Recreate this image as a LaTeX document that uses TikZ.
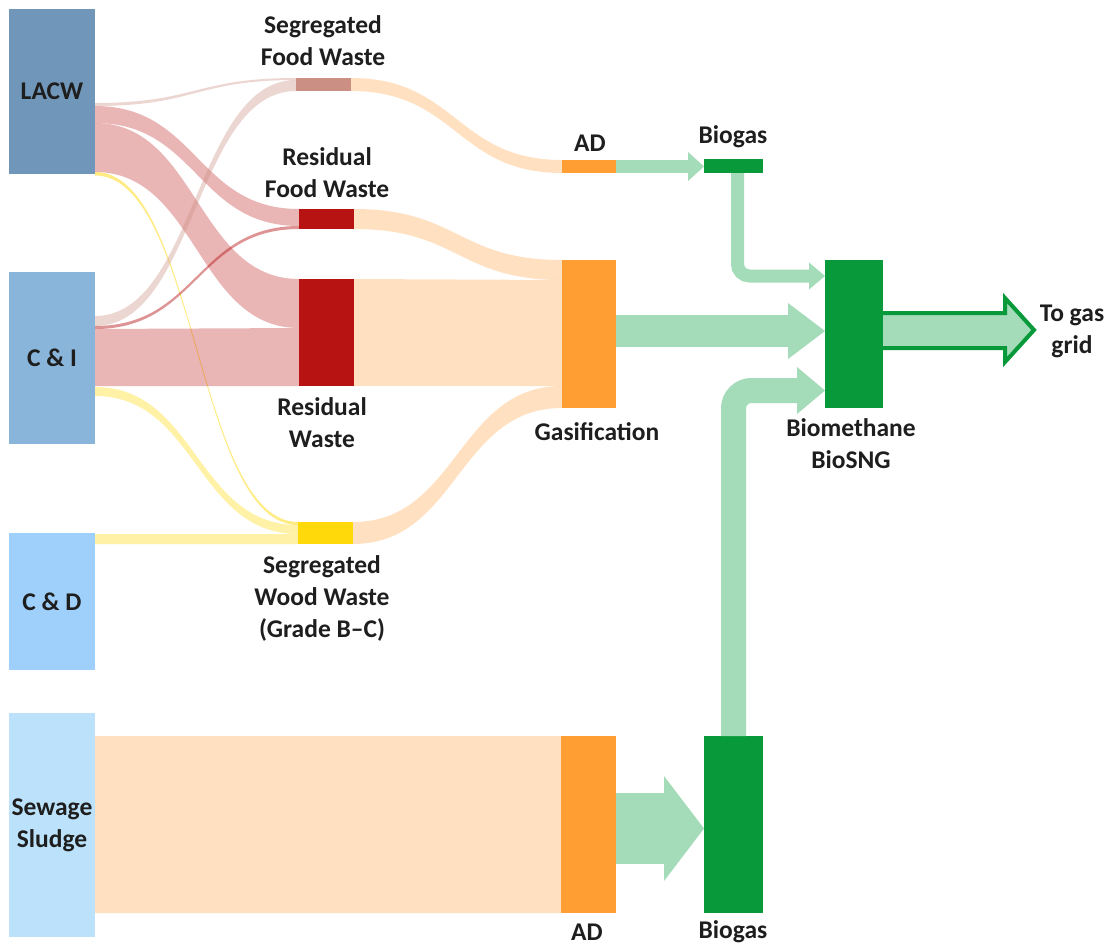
\documentclass[tikz,border=0pt]{standalone}
\usepackage{fontspec}
\setmainfont{Carlito}
\usetikzlibrary{calc,arrows.meta}
\pgfdeclarelayer{bg}
\pgfdeclarelayer{paper}
\pgfsetlayers{paper,bg,main}
\definecolor{cLACW}{HTML}{7097B9}
\definecolor{cCI}{HTML}{8AB5DA}
\definecolor{cCD}{HTML}{9ED0FB}
\definecolor{cSEW}{HTML}{BBE2FA}
\definecolor{cSFW}{HTML}{CC8F83}
\definecolor{cRED}{HTML}{B81313}
\definecolor{cWOOD}{HTML}{FFD90A}
\definecolor{cORG}{HTML}{FF9E33}
\definecolor{cGRN}{HTML}{089A3A}
\definecolor{cLG}{HTML}{A4DBB9}
\definecolor{cTXT}{HTML}{1E1E1E}
% band: #1 style, #2 source node, #3/#4 source top/bottom y, #5 target node, #6/#7 target top/bottom y
\newcommand\flowband[7]{%
  \path (#2.east |- 0,#3) coordinate (fa) (#2.east |- 0,#4) coordinate (fb)
        (#5.west |- 0,#6) coordinate (fc) (#5.west |- 0,#7) coordinate (fd);
  \path ($(fa)!0.5!(fc)$) coordinate (fm);
  \fill[#1] (fa) .. controls (fm |- fa) and (fm |- fc) .. (fc) -- (fd)
     .. controls (fm |- fd) and (fm |- fb) .. (fb) -- cycle;
}
\begin{document}
\begin{tikzpicture}[x=1pt,y=-1pt,
  font=\fontsize{25.5}{32}\selectfont\bfseries, text=cTXT,
  box/.style={anchor=north west, inner sep=0pt, outer sep=0pt, align=center},
  lbl/.style={align=center, inner sep=0pt},
  redflow/.style={fill=cRED, fill opacity=0.31},
  redthin/.style={fill=cRED, fill opacity=0.45},
  roseflow/.style={fill=cSFW, fill opacity=0.36},
  yelflow/.style={fill=cWOOD, fill opacity=0.36},
  yelthin/.style={fill=cWOOD, fill opacity=0.5},
  peachflow/.style={fill=cORG, fill opacity=0.3},
]
\begin{pgfonlayer}{paper}
\fill[white] (0,0) rectangle (1107,946);
\end{pgfonlayer}
\useasboundingbox (0,0) rectangle (1107,946);

% sources
\node[box, fill=cLACW, minimum width=86pt, minimum height=165pt] (lacw) at (9,9) {LACW};
\node[box, fill=cCI, minimum width=86pt, minimum height=172pt] (ci) at (9,272) {C \& I};
\node[box, fill=cCD, minimum width=86pt, minimum height=137pt] (cd) at (9,533) {C \& D};
\node[box, fill=cSEW, minimum width=86pt, minimum height=224pt] (sew) at (9,713) {Sewage\\Sludge};

% intermediate
\node[box, fill=cSFW, minimum width=55pt, minimum height=13pt] (sfw) at (296,78) {};
\node[box, fill=cRED, minimum width=55pt, minimum height=20pt] (rfw) at (299,209) {};
\node[box, fill=cRED, minimum width=55pt, minimum height=107pt] (rw) at (299,279) {};
\node[box, fill=cWOOD, minimum width=55pt, minimum height=22pt] (wood) at (298,522) {};

% processes
\node[box, fill=cORG, minimum width=54pt, minimum height=13pt] (ad1) at (562,160) {};
\node[box, fill=cORG, minimum width=54pt, minimum height=148pt] (gas) at (562,260) {};
\node[box, fill=cORG, minimum width=55pt, minimum height=177pt] (ad2) at (561,736) {};
\node[box, fill=cGRN, minimum width=59pt, minimum height=14pt] (bg1) at (704,159) {};
\node[box, fill=cGRN, minimum width=59pt, minimum height=177pt] (bg2) at (704,736) {};
\node[box, fill=cGRN, minimum width=58pt, minimum height=148pt] (bm) at (825,260) {};
\coordinate (gridpt) at (1034,330);

% flows
\begin{pgfonlayer}{bg}
\flowband{roseflow}{lacw}{103}{106}{sfw}{78}{80}
\flowband{redflow}{lacw}{106}{123}{rfw}{209}{226}
\flowband{redflow}{lacw}{123}{172}{rw}{279}{328}
\flowband{yelthin}{lacw}{172}{175.5}{wood}{522}{525}
\flowband{roseflow}{ci}{316}{326}{sfw}{80}{91}
\flowband{redthin}{ci}{326}{329}{rfw}{226}{229}
\flowband{redflow}{ci}{329}{386}{rw}{328}{386}
\flowband{yelflow}{ci}{387}{396}{wood}{525}{534}
\flowband{yelflow}{cd}{534}{544}{wood}{534}{544}
\flowband{peachflow}{sfw}{78}{91}{ad1}{160}{173}
\flowband{peachflow}{rfw}{209}{229}{gas}{260}{280}
\flowband{peachflow}{rw}{279}{386}{gas}{280}{386}
\flowband{peachflow}{wood}{522}{544}{gas}{386}{408}
\flowband{peachflow}{sew}{736}{913}{ad2}{736}{913}
\draw[fill=cLG, draw=cGRN, line width=4pt] (bm.east |- 0,313) -- (1005,313) -- (1005,298)
  -- (gridpt) -- (1005,362) -- (1005,348) -- (bm.east |- 0,348);
\end{pgfonlayer}

% green arrows
\draw[draw=cLG, line width=13pt, -{Triangle[length=16pt,width=29pt,line width=0pt,fill=cLG]}]
  (ad1.east) -- (bg1.west |- ad1.east);
\draw[draw=cLG, line width=32pt, -{Triangle[length=37pt,width=56pt,line width=0pt,fill=cLG]}]
  (gas.east |- 0,331) -- (bm.west |- 0,331);
\draw[draw=cLG, line width=71pt, -{Triangle[length=40pt,width=105pt,line width=0pt,fill=cLG]}]
  (ad2.east |- 0,828.5) -- (bg2.west |- 0,828.5);
\draw[draw=cLG, line width=13pt, rounded corners=12pt, -{Triangle[length=16pt,width=27pt,line width=0pt,fill=cLG]}]
  ([xshift=4pt]bg1.south) |- (bm.west |- 0,276);
\draw[draw=cLG, line width=25pt, rounded corners=18pt, -{Triangle[length=28pt,width=47pt,line width=0pt,fill=cLG]}]
  (bg2.north) |- (bm.west |- 0,390.5);

% labels
\node[lbl] (lsfw) at (323,41) {Segregated\\Food Waste};
\node[lbl] (lrfw) at (327,172.5) {Residual\\Food Waste};
\node[lbl] (lrw) at (322,422.5) {Residual\\Waste};
\node[lbl] (lwood) at (322,598) {Segregated\\Wood Waste\\(Grade B–C)};
\node[lbl] (lad1) at (590,143) {AD};
\node[lbl] (lbg1) at (733,137) {Biogas};
\node[lbl] (lgas) at (597,432) {Gasification};
\node[lbl] (lbm) at (851,444) {Biomethane\\BioSNG};
\node[lbl] (lgrid) at (1072,331) {To gas\\grid};
\node[lbl] (lad2) at (587,932) {AD};
\node[lbl] (lbg2) at (733,932) {Biogas};
\end{tikzpicture}
\end{document}
